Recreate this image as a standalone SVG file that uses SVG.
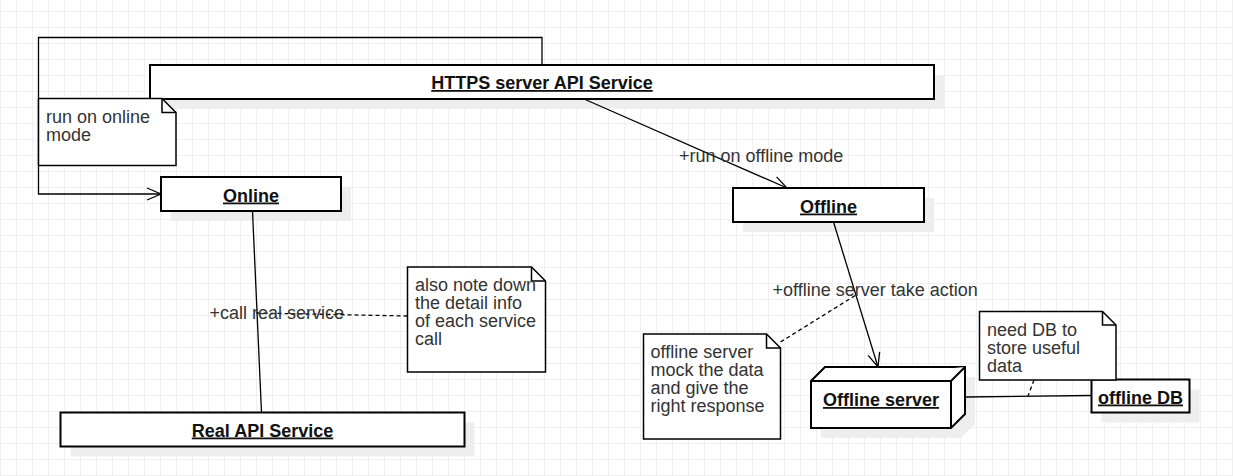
<svg xmlns="http://www.w3.org/2000/svg" width="1233" height="476" viewBox="0 0 1233 476">
<defs>
<pattern id="grid" x="0" y="11" width="16" height="16" patternUnits="userSpaceOnUse">
<path d="M0.5 0V16M0 0.5H16" stroke="#f0f0f0" stroke-width="1" fill="none"/>
</pattern>
<marker id="open" viewBox="-16 -8 18 16" refX="0" refY="0" markerWidth="18" markerHeight="16" markerUnits="userSpaceOnUse" orient="auto" overflow="visible">
<path d="M-14,-6 L0,0 L-14,6" fill="none" stroke="#000" stroke-width="1.3"/>
</marker>
</defs>
<style>
.box{fill:#fff;stroke:#000;stroke-width:2}
.shadow{fill:#eeeeee;stroke:none}
.note{fill:#fff;stroke:#000;stroke-width:1.5}
.fold{fill:none;stroke:#000;stroke-width:1.5}
.t{font-family:"Liberation Sans",Arial,sans-serif;font-size:18px}
.b{font-weight:bold;text-decoration:underline;fill:#111;text-anchor:middle}
.n{fill:#333}
.edge{fill:none;stroke:#000;stroke-width:1.3}
.dash{fill:none;stroke:#000;stroke-width:1.3;stroke-dasharray:4 3}
</style>
<rect width="1233" height="476" fill="#fff"/>
<rect width="1233" height="476" fill="url(#grid)"/>

<g id="shadows">
<rect class="shadow" x="160" y="75" width="784" height="34"/>
<rect class="shadow" x="171" y="187" width="180" height="34"/>
<rect class="shadow" x="743" y="198" width="191" height="34"/>
<rect class="shadow" x="70.5" y="422.5" width="404" height="34"/>
<path class="shadow" d="M821,391 L835,377 L975,377 L975,424 L961,438 L821,438 Z"/>
<rect class="shadow" x="1101.5" y="389.5" width="98" height="33"/>
</g>

<g id="connectors">
<path class="edge" d="M542,65 V37.5 H38.5 V194 H161" marker-end="url(#open)"/>
<path class="edge" d="M584,99 L787,188" marker-end="url(#open)"/>
<path class="edge" d="M252.5,211 L261.5,412.5"/>
<path class="edge" d="M833.5,222 L878,367" marker-end="url(#open)"/>
<path class="edge" d="M966,397 L1091.5,395.5"/>
<path class="dash" d="M407.5,316 L256,313"/>
<path class="dash" d="M780.5,342 L856,295"/>
<path class="dash" d="M1034,380 L1028,396"/>
<text class="t n" x="679" y="161.5">+run on offline mode</text>
<text class="t n" x="209.5" y="318.5">+call real service</text>
<text class="t n" x="772.5" y="296">+offline server take action</text>
</g>

<g id="https-server">
<rect class="box" x="150" y="65" width="784" height="34"/>
<text class="t b" x="542" y="89">HTTPS server API Service</text>
</g>

<g id="online">
<rect class="box" x="161" y="177" width="180" height="34"/>
<text class="t b" x="251" y="201.5">Online</text>
</g>

<g id="offline">
<rect class="box" x="733" y="188" width="191" height="34"/>
<text class="t b" x="828.5" y="212.5">Offline</text>
</g>

<g id="real-api">
<rect class="box" x="60.5" y="412.5" width="404" height="34"/>
<text class="t b" x="262.5" y="436.5">Real API Service</text>
</g>

<g id="offline-server">
<path class="box" d="M811,381 L825,367 L965,367 L965,414 L951,428 L811,428 Z"/>
<path class="box" fill="none" d="M811,381 L951,381 L965,367 M951,381 L951,428"/>
<text class="t b" x="881" y="406">Offline server</text>
</g>

<g id="offline-db">
<rect class="box" x="1091.5" y="379.5" width="98" height="33"/>
<text class="t b" x="1140.5" y="403.5">offline DB</text>
</g>

<g id="note-online">
<path class="note" d="M38.5,98.5 H162 L176,112.5 V165.5 H38.5 Z"/>
<path class="fold" d="M162,98.5 V112.5 H176"/>
<text class="t n" x="46" y="123">run on online</text>
<text class="t n" x="46" y="141">mode</text>
</g>

<g id="note-detail">
<path class="note" d="M407.5,267 H531.5 L545.5,281 V372 H407.5 Z"/>
<path class="fold" d="M531.5,267 V281 H545.5"/>
<text class="t n" x="415" y="291">also note down</text>
<text class="t n" x="415" y="309">the detail info</text>
<text class="t n" x="415" y="327">of each service</text>
<text class="t n" x="415" y="345">call</text>
</g>

<g id="note-mock">
<path class="note" d="M643.5,334 H766.5 L780.5,348 V439 H643.5 Z"/>
<path class="fold" d="M766.5,334 V348 H780.5"/>
<text class="t n" x="650.5" y="358">offline server</text>
<text class="t n" x="650.5" y="376">mock the data</text>
<text class="t n" x="650.5" y="394">and give the</text>
<text class="t n" x="650.5" y="412">right response</text>
</g>

<g id="note-db">
<path class="note" d="M979.5,311.5 H1102.5 L1116,325 V380 H979.5 Z"/>
<path class="fold" d="M1102.5,311.5 V325 H1116"/>
<text class="t n" x="987" y="336">need DB to</text>
<text class="t n" x="987" y="354">store useful</text>
<text class="t n" x="987" y="372">data</text>
</g>
</svg>
